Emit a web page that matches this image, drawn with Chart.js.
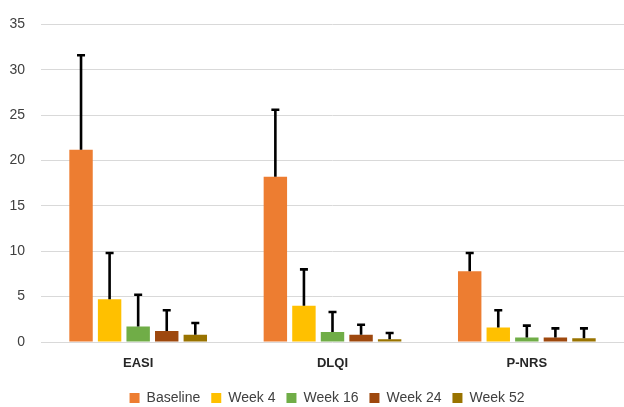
<!DOCTYPE html>
<html>
<head>
<meta charset="utf-8">
<script src="https://cdn.jsdelivr.net/npm/chart.js@4/dist/chart.umd.min.js"></script>
<style>
  html, body { margin: 0; padding: 0; background: #fff; }
  #wrap { width: 624px; height: 407px; }
</style>
</head>
<body>
<div id="wrap"><canvas id="c" width="624" height="407"></canvas></div>
<script>
const categories = ["EASI", "DLQI", "P-NRS"];
const seriesNames = ["Baseline", "Week 4", "Week 16", "Week 24", "Week 52"];
const baseline = [21.2, 18.2, 7.8];
const week4 = [4.7, 4.0, 1.6];
const week16 = [1.7, 1.1, 0.5];
const week24 = [1.2, 0.8, 0.5];
const week52 = [0.8, 0.3, 0.4];
const baselineSD = [10.4, 7.4, 2.0];
const week4SD = [5.1, 4.0, 1.9];
const week16SD = [3.5, 2.2, 1.3];
const week24SD = [2.3, 1.1, 1.0];
const week52SD = [1.3, 0.7, 1.1];
const yTicks = [0, 5, 10, 15, 20, 25, 30, 35];
const colors = ["#ED7D31", "#FFC000", "#70AD47", "#9E480E", "#997300"];

const values = [baseline, week4, week16, week24, week52];
const sds = [baselineSD, week4SD, week16SD, week24SD, week52SD];

const errorBars = {
  id: 'errorBars',
  afterDatasetsDraw(chart) {
    const ctx = chart.ctx;
    const y = chart.scales.y;
    ctx.save();
    ctx.strokeStyle = '#000';
    ctx.lineWidth = 2.6;
    chart.data.datasets.forEach((ds, i) => {
      const meta = chart.getDatasetMeta(i);
      meta.data.forEach((bar, j) => {
        const top = y.getPixelForValue(ds.data[j] + ds.sd[j]);
        const x = bar.x;
        ctx.beginPath();
        ctx.moveTo(x, bar.y);
        ctx.lineTo(x, top);
        ctx.moveTo(x - 4, top);
        ctx.lineTo(x + 4, top);
        ctx.stroke();
      });
    });
    ctx.restore();
  }
};

const legendShift = {
  id: 'legendShift',
  afterLayout(chart) {
    if (chart.legend) {
      chart.legend.left += 30;
      chart.legend.right += 0;
    }
  }
};

new Chart(document.getElementById('c'), {
  type: 'bar',
  data: {
    labels: categories,
    datasets: seriesNames.map((n, i) => ({
      label: n,
      data: values[i],
      sd: sds[i],
      backgroundColor: colors[i],
      borderWidth: 0,
      barPercentage: 0.82,
      categoryPercentage: 0.735
    }))
  },
  options: {
    responsive: false,
    animation: false,
    devicePixelRatio: 1,
    layout: { padding: { top: 14, right: 0, left: 0, bottom: -8 } },
    plugins: {
      tooltip: { enabled: false },
      legend: {
        position: 'bottom',
        labels: {
          boxWidth: 10, boxHeight: 10, padding: 11,
          color: '#404040',
          font: { family: 'Liberation Sans, Arial, sans-serif', size: 14 }
        }
      }
    },
    scales: {
      x: {
        afterFit(axis) { axis.height = 38; },
        grid: { display: false, drawTicks: false },
        border: { display: false },
        ticks: {
          color: '#262626',
          padding: 14,
          font: { family: 'Liberation Sans, Arial, sans-serif', size: 13, weight: 'bold' }
        }
      },
      y: {
        min: 0, max: 35,
        afterBuildTicks(axis) { axis.ticks = yTicks.map(v => ({ value: v })); },
        afterFit(axis) { axis.width = 41; },
        grid: { color: '#D9D9D9', lineWidth: 1, drawTicks: false },
        border: { display: false },
        ticks: {
          color: '#404040',
          padding: 16,
          font: { family: 'Liberation Sans, Arial, sans-serif', size: 14 }
        }
      }
    }
  },
  plugins: [errorBars, legendShift]
});
</script>
</body>
</html>
